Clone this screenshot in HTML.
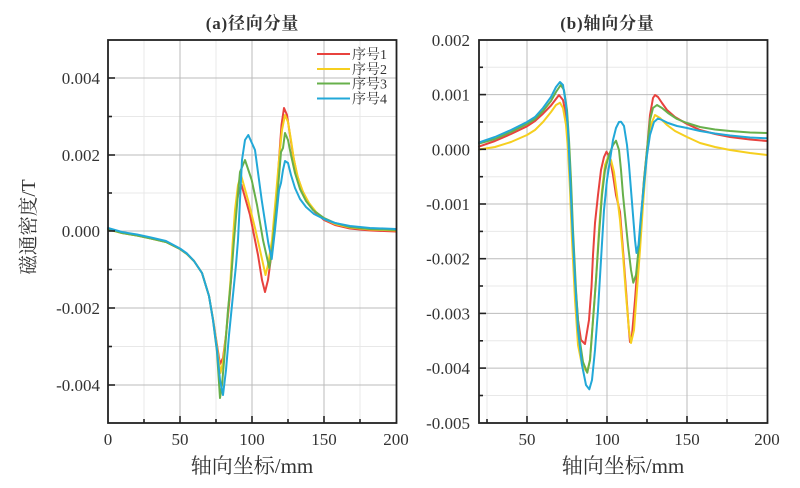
<!DOCTYPE html>
<html><head><meta charset="utf-8"><style>
html,body{margin:0;padding:0;background:#fff;}
svg{display:block;}
text{font-family:"Liberation Serif","Noto Serif CJK SC",serif;fill:#333;}
</style></head><body>
<svg width="800" height="488" viewBox="0 0 800 488" xmlns="http://www.w3.org/2000/svg">
<rect width="800" height="488" fill="#fff"/>
<!-- ===== LEFT PLOT GRID ===== -->
<g stroke="#e8e8e8" stroke-width="1">
<line x1="144" y1="40" x2="144" y2="423"/><line x1="216" y1="40" x2="216" y2="423"/>
<line x1="288" y1="40" x2="288" y2="423"/><line x1="360" y1="40" x2="360" y2="423"/>
<line x1="108" y1="116.5" x2="396" y2="116.5"/><line x1="108" y1="193" x2="396" y2="193"/>
<line x1="108" y1="269.5" x2="396" y2="269.5"/><line x1="108" y1="346.5" x2="396" y2="346.5"/>
</g>
<g stroke="#bbb" stroke-width="1">
<line x1="180" y1="40" x2="180" y2="423"/><line x1="252" y1="40" x2="252" y2="423"/><line x1="324" y1="40" x2="324" y2="423"/>
<line x1="108" y1="78" x2="396" y2="78"/><line x1="108" y1="155" x2="396" y2="155"/><line x1="108" y1="231" x2="396" y2="231"/>
<line x1="108" y1="308" x2="396" y2="308"/><line x1="108" y1="385" x2="396" y2="385"/>
</g>
<!-- ===== RIGHT PLOT GRID ===== -->
<g stroke="#e8e8e8" stroke-width="1">
<line x1="487" y1="40" x2="487" y2="423"/><line x1="567" y1="40" x2="567" y2="423"/>
<line x1="647" y1="40" x2="647" y2="423"/><line x1="727" y1="40" x2="727" y2="423"/>
<line x1="479" y1="67.3" x2="767" y2="67.3"/><line x1="479" y1="122" x2="767" y2="122"/>
<line x1="479" y1="176.7" x2="767" y2="176.7"/><line x1="479" y1="231.4" x2="767" y2="231.4"/>
<line x1="479" y1="286" x2="767" y2="286"/><line x1="479" y1="340.8" x2="767" y2="340.8"/>
<line x1="479" y1="395.5" x2="767" y2="395.5"/>
</g>
<g stroke="#bbb" stroke-width="1">
<line x1="527" y1="40" x2="527" y2="423"/><line x1="607" y1="40" x2="607" y2="423"/><line x1="687" y1="40" x2="687" y2="423"/>
<line x1="479" y1="94.6" x2="767" y2="94.6"/><line x1="479" y1="149.3" x2="767" y2="149.3"/>
<line x1="479" y1="204" x2="767" y2="204"/><line x1="479" y1="258.7" x2="767" y2="258.7"/>
<line x1="479" y1="313.4" x2="767" y2="313.4"/><line x1="479" y1="368.1" x2="767" y2="368.1"/>
</g>

<!-- ===== LEFT CURVES ===== -->
<g fill="none" stroke-width="2" stroke-linejoin="round" stroke-linecap="round">
<polyline stroke="#e8423e" points="108,229 122,233 137,235.5 151,238.5 166,242 180,249 187,254 194,261 202,273 209,296 213,319 217,345 220,364 223,358 226,335 229,305 231,280 233,245 235,215 238,195 241.5,185 250,215 258,255 262,280 265,292 268,280 272,250 276,205 279,160 281.5,125 284,108 287,115 290,135 293,155 297,175 302,190 308,202 315,212 324,220 335,225 350,228.5 370,230.5 396,231.5"/>
<polyline stroke="#f6cf1f" points="108,229.5 122,233 137,235.5 151,238.5 166,242 180,249 187,254 194,261 202,273 209,296 213,319 217,347 220.5,373 223,362 226,335 229,300 230.5,280 232.5,245 235,210 238,185 241,175 248,200 255,228 260,250 265.5,275 268,265 272,240 276,195 279,160 282,130 285,115 288,122 291,140 294,160 298,178 303,192 309,203 316,212 324,219 335,224 350,227.5 370,229.5 396,230.5"/>
<polyline stroke="#67b04b" points="108,229 122,233 137,235.5 151,238.5 166,242 180,249 187,254 194,261 202,273 209,296 213,320 217,352 220,398 222,385 225,350 228,310 231,280 234,240 237,205 240,172 245,160 251.7,180 257,205 263,240 269.3,268 272,250 277,200 281,152 283,148 285,133 288,140 291,155 295,173 300,189 306,201 313,210 324,218 335,223 350,227 370,229 396,230"/>
<polyline stroke="#22a8d8" points="108,228 122,232 137,234.5 151,237.5 166,241 180,248.5 187,253.5 194,261 202,273 209,296 213,320 217,350 220,380 223,395 226,370 229,335 233,295 236,265 238,240 240,200 242,160 245,140 248.3,135 255,150 261.7,200 268.3,243 271.7,259 275,230 279,190 281,183 283,170 285,161 288,163 291,175 295,188 300,199 306,207 314,214 324,219 335,223 350,226 370,228 396,229"/>
</g>

<!-- ===== RIGHT CURVES ===== -->
<g fill="none" stroke-width="2" stroke-linejoin="round" stroke-linecap="round">
<polyline stroke="#e8423e" points="479,146.6 495,141 511,134 527,126.3 535,121 543,113.7 551,105.5 559,95 563,100 566,115 568,140 570,180 572,230 575,280 578,320 581,340 585,344 589,320 591.5,287 593,255 595,223 598,195 601,170 604,157 606.5,151.7 610,158 613,175 616,195 620,212 623,250 626,290 628.5,325 630,342 632,335 635,300 638,260 641,220 644,180 647,150 650,115 653,98 655,95 658,97 662,103 667,110 675,117 687,124 700,130 715,134 730,137 750,139.5 767,141"/>
<polyline stroke="#f6cf1f" points="479,149.5 495,147 511,142 527,135 535,130 543,122 551,112 556,105 560,102.7 563,108 566,125 568,150 570,190 572,240 575,300 578,345 582,365 587,372 590,360 593,320 596,280 599,230 602,190 605,165 608,157 611,160 614,172 617,195 620,220 623,255 626,295 629,330 631,343 634,330 637,290 640,250 643,205 646,165 649,135 652,122 655,115 660,118 667,125 675,131 687,137 700,143 715,147 730,150 750,153 767,155"/>
<polyline stroke="#67b04b" points="479,143.5 495,139 511,132 527,124 535,119 543,111 551,101 556,92 560.7,85 564,90 567,110 569,140 571,180 573,230 576,290 579,335 583,362 587.3,372.7 590,360 593,320 596,280 599,235 602,195 605,170 609,155 613,145 616,140.7 619,150 621,170 623,195 625,215 628,245 631,270 633.3,282.7 636,275 639,245 642,205 644,180 647,150 650,120 653,108 657,105 662,108 668,113 677,119 687,123 700,127 715,129.5 730,131 750,132.5 767,133"/>
<polyline stroke="#22a8d8" points="479,142.5 495,137 511,130 527,122 535,117 543,108 551,97 556,87 560,82 563,85 566,105 568,130 570,175 572,220 575,280 578,330 582,365 586,385 589.3,389.3 592,380 595,350 598,310 601,260 604,210 607,180 610,160 613,140 616,128 619,122 621,121.7 624,126 627,145 629,165 631,190 633,215 635,240 636.5,253 638.5,245 641,215 644,185 647,155 650,135 654,122 658,118.5 662,120 668,123 677,126 687,128 700,131 715,133.5 730,135.5 750,137.5 767,138.3"/>
</g>

<!-- ===== AXES FRAMES ===== -->
<rect x="108" y="40" width="288.5" height="383" fill="none" stroke="#222" stroke-width="1.8"/>
<rect x="479" y="40" width="288.5" height="383" fill="none" stroke="#222" stroke-width="1.8"/>

<!-- ticks left -->
<g stroke="#222" stroke-width="1.6">
<line x1="108" y1="78" x2="115" y2="78"/><line x1="108" y1="155" x2="115" y2="155"/><line x1="108" y1="231" x2="115" y2="231"/>
<line x1="108" y1="308" x2="115" y2="308"/><line x1="108" y1="385" x2="115" y2="385"/>
<line x1="108" y1="116.5" x2="112" y2="116.5"/><line x1="108" y1="193" x2="112" y2="193"/>
<line x1="108" y1="269.5" x2="112" y2="269.5"/><line x1="108" y1="346.5" x2="112" y2="346.5"/>
<line x1="180" y1="423" x2="180" y2="416"/><line x1="252" y1="423" x2="252" y2="416"/><line x1="324" y1="423" x2="324" y2="416"/>
<line x1="144" y1="423" x2="144" y2="419"/><line x1="216" y1="423" x2="216" y2="419"/>
<line x1="288" y1="423" x2="288" y2="419"/><line x1="360" y1="423" x2="360" y2="419"/>
</g>
<!-- ticks right -->
<g stroke="#222" stroke-width="1.6">
<line x1="479" y1="94.6" x2="486" y2="94.6"/><line x1="479" y1="149.3" x2="486" y2="149.3"/>
<line x1="479" y1="204" x2="486" y2="204"/><line x1="479" y1="258.7" x2="486" y2="258.7"/>
<line x1="479" y1="313.4" x2="486" y2="313.4"/><line x1="479" y1="368.1" x2="486" y2="368.1"/>
<line x1="479" y1="67.3" x2="483" y2="67.3"/><line x1="479" y1="122" x2="483" y2="122"/>
<line x1="479" y1="176.7" x2="483" y2="176.7"/><line x1="479" y1="231.4" x2="483" y2="231.4"/>
<line x1="479" y1="286" x2="483" y2="286"/><line x1="479" y1="340.8" x2="483" y2="340.8"/>
<line x1="479" y1="395.5" x2="483" y2="395.5"/>
<line x1="527" y1="423" x2="527" y2="416"/><line x1="607" y1="423" x2="607" y2="416"/><line x1="687" y1="423" x2="687" y2="416"/>
<line x1="487" y1="423" x2="487" y2="419"/><line x1="567" y1="423" x2="567" y2="419"/>
<line x1="647" y1="423" x2="647" y2="419"/><line x1="727" y1="423" x2="727" y2="419"/>
</g>

<!-- tick labels left -->
<g font-size="17" text-anchor="end">
<text x="100" y="84">0.004</text>
<text x="100" y="161">0.002</text>
<text x="100" y="237">0.000</text>
<text x="100" y="314">-0.002</text>
<text x="100" y="391">-0.004</text>
</g>
<g font-size="17" text-anchor="middle">
<text x="108" y="445">0</text>
<text x="180" y="445">50</text>
<text x="252" y="445">100</text>
<text x="324" y="445">150</text>
<text x="396" y="445">200</text>
</g>
<!-- tick labels right -->
<g font-size="17" text-anchor="end">
<text x="470" y="46">0.002</text>
<text x="470" y="100.6">0.001</text>
<text x="470" y="155.3">0.000</text>
<text x="470" y="210">-0.001</text>
<text x="470" y="264.7">-0.002</text>
<text x="470" y="319.4">-0.003</text>
<text x="470" y="374.1">-0.004</text>
<text x="470" y="429">-0.005</text>
</g>
<g font-size="17" text-anchor="middle">
<text x="527" y="445">50</text>
<text x="607" y="445">100</text>
<text x="687" y="445">150</text>
<text x="767" y="445">200</text>
</g>

<!-- titles -->
<text x="252.5" y="29" font-size="17" text-anchor="middle" font-weight="bold" letter-spacing="0.8">(a)径向分量</text>
<text x="607.5" y="29" font-size="17" text-anchor="middle" font-weight="bold" letter-spacing="0.8">(b)轴向分量</text>
<!-- axis labels -->
<text x="252" y="473" font-size="21" text-anchor="middle">轴向坐标/mm</text>
<text x="623" y="473" font-size="21" text-anchor="middle">轴向坐标/mm</text>
<text transform="translate(35,227) rotate(-90)" font-size="19.5" text-anchor="middle">磁通密度/T</text>

<!-- legend -->
<g stroke-width="2">
<line x1="317" y1="54" x2="350" y2="54" stroke="#e8423e"/>
<line x1="317" y1="69" x2="350" y2="69" stroke="#f6cf1f"/>
<line x1="317" y1="83.5" x2="350" y2="83.5" stroke="#67b04b"/>
<line x1="317" y1="98.5" x2="350" y2="98.5" stroke="#22a8d8"/>
</g>
<g font-size="14">
<text x="352" y="59">序号1</text>
<text x="352" y="74">序号2</text>
<text x="352" y="88.5">序号3</text>
<text x="352" y="103.5">序号4</text>
</g>
</svg>
</body></html>
